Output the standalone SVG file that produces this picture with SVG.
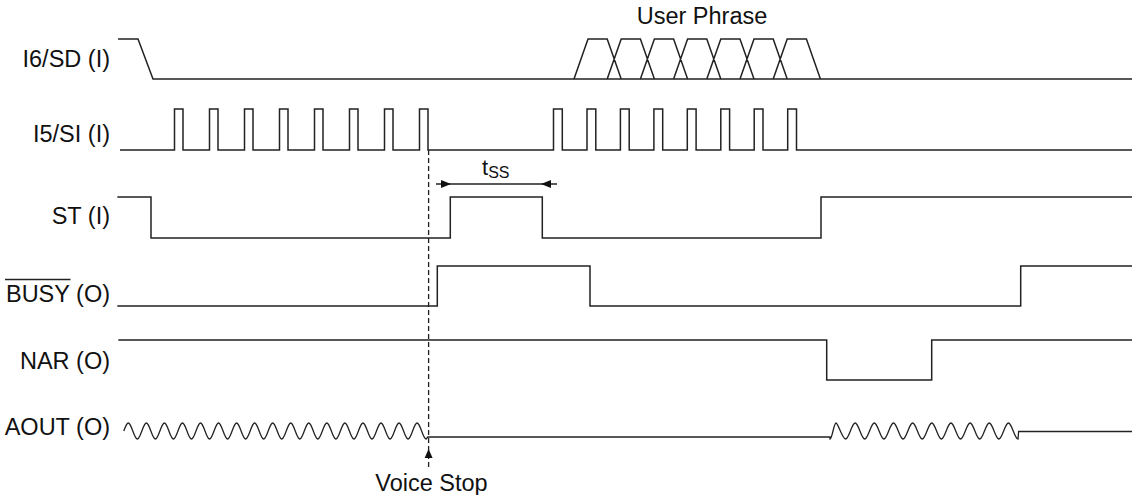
<svg xmlns="http://www.w3.org/2000/svg" width="1133" height="495" viewBox="0 0 1133 495">
<style>
.sig{fill:none;stroke:#222;stroke-width:1.5;stroke-linejoin:miter}
.wav{fill:none;stroke:#222;stroke-width:1.3}
.lbl{font-family:"Liberation Sans",Arial,Helvetica,sans-serif;font-size:23.5px;fill:#111;text-anchor:end}
.txt{font-family:"Liberation Sans",Arial,Helvetica,sans-serif;font-size:23.5px;fill:#111;text-anchor:middle}
.dash{fill:none;stroke:#222;stroke-width:1.3;stroke-dasharray:5,3}
.dim{fill:none;stroke:#222;stroke-width:1.3}
.ah{fill:#111;stroke:none}
</style>
<rect x="0" y="0" width="1133" height="495" fill="#ffffff"/>
<g id="i6sd">
<text class="lbl" x="110" y="67">I6/SD (I)</text>
<path class="sig" d="M118,39 H138 L153,79 H1132"/>
<path class="sig" d="M574,79 L588,39 H607.2 L621.2,79 M607.2,79 L621.2,39 H640.4 L654.4,79 M640.4,79 L654.4,39 H673.6 L687.6,79 M673.6,79 L687.6,39 H706.8 L720.8,79 M706.8,79 L720.8,39 H740 L754,79 M740,79 L754,39 H773.2 L787.2,79 M773.2,79 L787.2,39 H806.4 L820.4,79"/>
<text class="txt" x="702" y="23.5">User Phrase</text>
</g>
<g id="i5si">
<text class="lbl" x="110" y="142">I5/SI (I)</text>
<path class="sig" d="M120,150 H174.5 V109 H183 V150 H209.5 V109 H218 V150 H244.5 V109 H253 V150 H279.5 V109 H288 V150 H314.5 V109 H323 V150 H349.5 V109 H358 V150 H384.5 V109 H393 V150 H419.5 V109 H428 V150 H553.5 V109 H562.3 V150 H587 V109 H595.8 V150 H620.4 V109 H629.2 V150 H653.9 V109 H662.7 V150 H687.3 V109 H696.1 V150 H720.8 V109 H729.6 V150 H754.2 V109 H763 V150 H787.7 V109 H796.5 V150 H1132"/>
</g>
<g id="st">
<text class="lbl" x="110" y="224">ST (I)</text>
<path class="sig" d="M117.3,197 H151 V238 H450.3 V197 H542.3 V238 H821 V197 H1132"/>
</g>
<g id="busy">
<text class="lbl" x="110" y="302">BUSY (O)</text>
<line class="sig" x1="5" y1="279.5" x2="70.5" y2="279.5"/>
<path class="sig" d="M117.3,306 H437.3 V266 H590 V306 H1020.7 V266 H1132"/>
</g>
<g id="nar">
<text class="lbl" x="110" y="369">NAR (O)</text>
<path class="sig" d="M118.3,340 H826.7 V380 H931.7 V340 H1132"/>
</g>
<g id="aout">
<text class="lbl" x="110" y="435">AOUT (O)</text>
<path class="wav" d="M123.8,431 Q126.66,423 128.3,423 c3.287,0 5.738,16 9.025,16 s5.738,-16 9.025,-16 s5.738,16 9.025,16 s5.738,-16 9.025,-16 s5.738,16 9.025,16 s5.738,-16 9.025,-16 s5.738,16 9.025,16 s5.738,-16 9.025,-16 s5.738,16 9.025,16 s5.738,-16 9.025,-16 s5.738,16 9.025,16 s5.738,-16 9.025,-16 s5.738,16 9.025,16 s5.738,-16 9.025,-16 s5.738,16 9.025,16 s5.738,-16 9.025,-16 s5.738,16 9.025,16 s5.738,-16 9.025,-16 s5.738,16 9.025,16 s5.738,-16 9.025,-16 s5.738,16 9.025,16 s5.738,-16 9.025,-16 s5.738,16 9.025,16 s5.738,-16 9.025,-16 s5.738,16 9.025,16 s5.738,-16 9.025,-16 s5.738,16 9.025,16 s5.738,-16 9.025,-16 s5.738,16 9.025,16 s5.738,-16 9.025,-16 s5.738,16 9.025,16 s5.738,-16 9.025,-16 s5.738,16 9.025,16 L427.8,437 H830 V439 c2.185,0 3.815,-16 6,-16 s6.091,16 9.58,16 s6.091,-16 9.58,-16 s6.091,16 9.58,16 s6.091,-16 9.58,-16 s6.091,16 9.58,16 s6.091,-16 9.58,-16 s6.091,16 9.58,16 s6.091,-16 9.58,-16 s6.091,16 9.58,16 s6.091,-16 9.58,-16 s6.091,16 9.58,16 s6.091,-16 9.58,-16 s6.091,16 9.58,16 s6.091,-16 9.58,-16 s6.091,16 9.58,16 s6.091,-16 9.58,-16 s6.091,16 9.58,16 s6.091,-16 9.58,-16 s6.091,16 9.58,16 L1018.6,431.5 H1132"/>
</g>
<g id="connectors">
<line class="dash" x1="428.6" y1="150" x2="428.6" y2="468"/>
<polygon class="ah" points="428.6,449 424.6,458 432.6,458"/>
<line class="dim" x1="436" y1="184" x2="557" y2="184"/>
<polygon class="ah" points="451,184 441,180 441,188"/>
<polygon class="ah" points="541,184 551,180 551,188"/>
<text font-family="'Liberation Sans',Arial,sans-serif" fill="#111" x="482" y="175"><tspan font-size="22">t</tspan><tspan font-size="16" dy="3">SS</tspan></text>
<text class="txt" x="431.5" y="491">Voice Stop</text>
</g>
</svg>
